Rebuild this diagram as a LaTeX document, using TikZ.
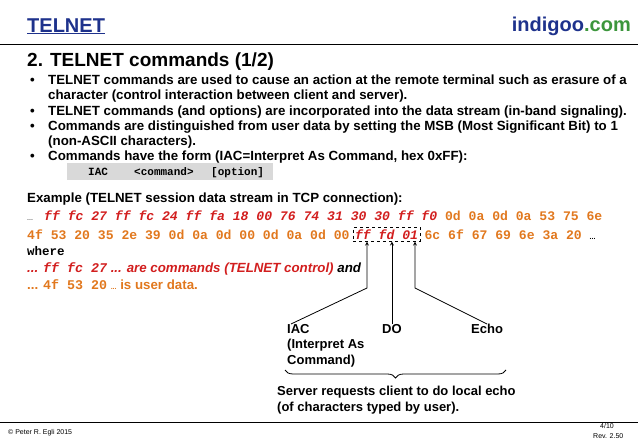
\documentclass[tikz,border=0pt]{standalone}
\usepackage{fontspec}
\setmainfont{Liberation Sans}
\setmonofont{Liberation Mono}
\usetikzlibrary{positioning,decorations.pathreplacing,arrows}
\definecolor{titleblue}{RGB}{30,50,140}
\definecolor{comgreen}{RGB}{60,150,60}
\definecolor{cmdred}{RGB}{210,30,30}
\definecolor{dataorange}{RGB}{225,120,30}
\tikzset{
  txt/.style={anchor=base west, inner sep=0pt, font=\bfseries\fontsize{13.3}{15}\selectfont},
  hex/.style={anchor=base west, inner sep=0pt, font=\ttfamily\bfseries\fontsize{13.1}{15}\selectfont},
  lbl/.style={anchor=north west, inner sep=0pt, align=left, font=\bfseries\fontsize{13}{15.5}\selectfont},
  arrow/.style={thick,->,>=stealth}
}
\newcommand{\rc}[1]{\textcolor{cmdred}{\itshape #1}}
\newcommand{\oc}[1]{\textcolor{dataorange}{#1}}
\newcommand{\tinydots}{{\rmfamily\fontsize{7}{8}\selectfont...}}
\begin{document}
\begin{tikzpicture}[x=1pt,y=-1pt]
\useasboundingbox (0,0) rectangle (638,442);

% header
\node (title) [anchor=base west, inner sep=0pt, font=\bfseries\fontsize{20}{22}\selectfont, text=titleblue] at (27,32) {\underline{TELNET}};
\node (site) [anchor=base east, inner sep=0pt, font=\bfseries\fontsize{20}{22}\selectfont] at (631,31) {\textcolor{titleblue}{indigoo}\textcolor{comgreen}{.com}};
\draw (0,44) -- (638,44);
\node (head) [anchor=base west, inner sep=0pt, font=\bfseries\fontsize{19}{21}\selectfont] at (27,66) {2. TELNET commands (1/2)};

% bullets
\node [txt] at (30,84) {•};
\node [txt] at (48,84) {TELNET commands are used to cause an action at the remote terminal such as erasure of a};
\node [txt] at (48,99) {character (control interaction between client and server).};
\node [txt] at (30,115) {•};
\node [txt] at (48,115) {TELNET commands (and options) are incorporated into the data stream (in-band signaling).};
\node [txt] at (30,130) {•};
\node [txt] at (48,130) {Commands are distinguished from user data by setting the MSB (Most Significant Bit) to 1};
\node [txt] at (48,145) {(non-ASCII characters).};
\node [txt] at (30,160) {•};
\node [txt] at (48,160) {Commands have the form (IAC=Interpret As Command, hex 0xFF):};
\fill[black!15] (67,163) rectangle (273,180);
\node [anchor=base west, inner sep=0pt, font=\ttfamily\bfseries\fontsize{11}{13}\selectfont] at (88,175) {IAC};
\node [anchor=base west, inner sep=0pt, font=\ttfamily\bfseries\fontsize{11}{13}\selectfont] at (134,175) {<command>};
\node [anchor=base west, inner sep=0pt, font=\ttfamily\bfseries\fontsize{11}{13}\selectfont] at (211,175) {[option]};

% example
\node [txt] at (27,202) {Example (TELNET session data stream in TCP connection):};
\node [anchor=base west, inner sep=0pt] at (27,220) {\tinydots};
\node (row1) [hex] at (44,220) {\rc{ff fc 27 ff fc 24 ff fa 18 00 76 74 31 30 30 ff f0} \oc{0d 0a 0d 0a 53 75 6e}};
\node (row2a) [hex] at (27,239) {\oc{4f 53 20 35 2e 39 0d 0a 0d 00 0d 0a 0d 00}};
\node (cmd) [hex, draw, dashed, thick, inner sep=2pt, base right=3pt of row2a] {\rc{ff fd 01}};
\node (row2b) [hex, base right=4pt of cmd] {\oc{6c 6f 67 69 6e 3a 20} \tinydots};
\node [hex, font=\ttfamily\bfseries\fontsize{12.5}{14}\selectfont] at (27,255) {where};
\node [txt] at (27,272) {\textcolor{cmdred}{\itshape ... {\ttfamily ff fc 27} ... are commands (TELNET control)} {\itshape and}};
\node [txt] at (27,289) {\textcolor{dataorange}{... {\ttfamily 4f 53 20} \tinydots\ is user data.}};

% labels
\node (iac) [lbl] at (287,324) {IAC\\(Interpret As\\Command)};
\node (do) [lbl] at (382,324) {DO};
\node (echo) [lbl] at (471,324) {Echo};
\coordinate (iacbend) at (367,288);
\coordinate (echobend) at (415,288);
\draw [arrow] (iac.north west) ++(4,0) -- (iacbend) -- (iacbend |- cmd.south);
\draw [arrow] (do.north) -- (do.north |- cmd.south);
\draw [arrow] (echo.north) -- (echobend) -- (echobend |- cmd.south);
\draw [thick, decorate, decoration={brace, amplitude=8pt, mirror}] (285,370) -- (506,370);
\node (note) [lbl] at (277,386) {Server requests client to do local echo\\(of characters typed by user).};

% footer
\draw (0,422) -- (638,422);
\node [anchor=base west, inner sep=0pt, font=\fontsize{7}{8}\selectfont] at (8,434) {© Peter R. Egli 2015};
\node [anchor=base west, inner sep=0pt, font=\fontsize{7}{8}\selectfont] at (600,428) {4/10};
\node [anchor=base west, inner sep=0pt, font=\fontsize{7}{8}\selectfont] at (593,438) {Rev. 2.50};
\end{tikzpicture}
\end{document}
